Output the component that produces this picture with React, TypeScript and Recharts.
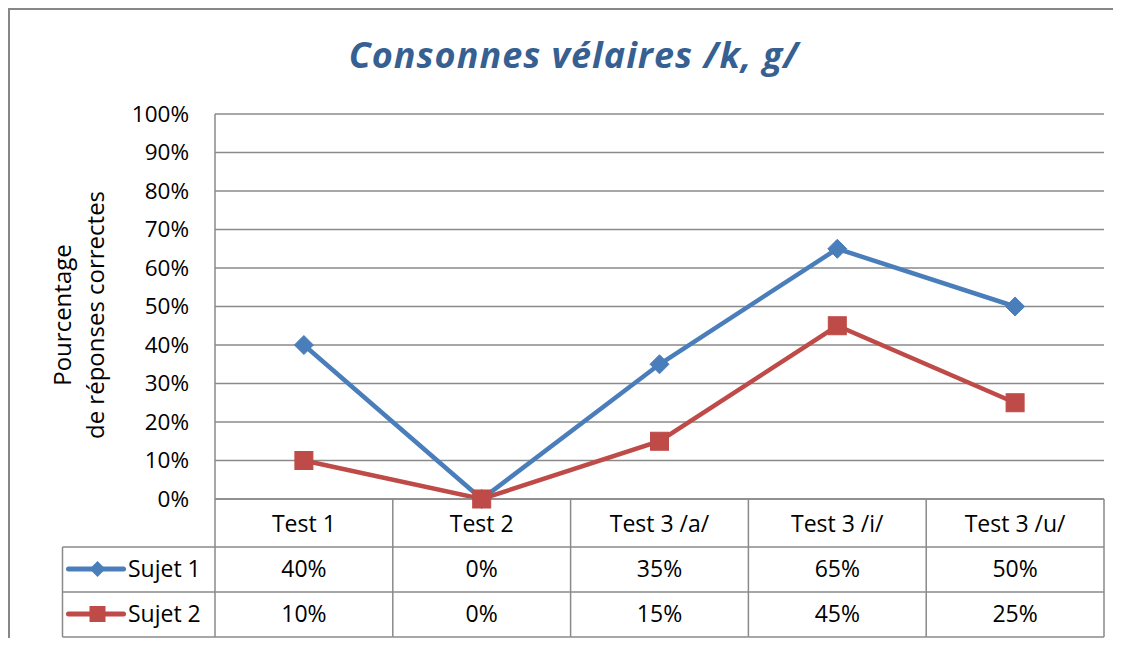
import React from 'react';
import { LineChart, Line, XAxis, YAxis, CartesianGrid } from 'recharts';

const categories = ['Test 1', 'Test 2', 'Test 3 /a/', 'Test 3 /i/', 'Test 3 /u/'];
const sujet1 = [40, 0, 35, 65, 50];
const sujet2 = [10, 0, 15, 45, 25];
const seriesNames = ['Sujet 1', 'Sujet 2'];
const yTicks = [0, 10, 20, 30, 40, 50, 60, 70, 80, 90, 100];
const title = 'Consonnes vélaires /k, g/';
const yLabelLines = ['Pourcentage', 'de réponses correctes'];

const data = categories.map((c, i) => ({ cat: c, s1: sujet1[i], s2: sujet2[i] }));

const BLUE = '#4a7ebb';
const RED = '#be4b48';
const GRID = '#8a8a8a';
const FONT = '"Open Sans", sans-serif';

const W = 1113;
const H = 630;
const FRAME_W = 1140;
const FRAME_H = 660;
const M = { top: 106, right: 17, left: 0, bottom: 0 };
const YAXIS_W = 207;
const XAXIS_H = 139;
const PLOT_W = W - M.left - M.right - YAXIS_W;
const BAND = PLOT_W / categories.length;

const diamondPath = (cx: number, cy: number, r: number) =>
  `M${cx} ${cy - r}L${cx + r} ${cy}L${cx} ${cy + r}L${cx - r} ${cy}Z`;

const DiamondDot = (p: any) => {
  if (p.cx == null || p.cy == null) return <g key={p.index} />;
  return <path key={`d${p.index}`} d={diamondPath(p.cx, p.cy, 9.5)} fill={BLUE} stroke={BLUE} strokeWidth={1} />;
};

const SquareDot = (p: any) => {
  if (p.cx == null || p.cy == null) return <g key={p.index} />;
  return <rect key={`s${p.index}`} x={p.cx - 9} y={p.cy - 9} width={18} height={18} fill={RED} stroke={RED} strokeWidth={1} />;
};

const LegendMarker = ({ x, y, idx }: { x: number; y: number; idx: number }) =>
  idx === 0 ? (
    <path d={diamondPath(x, y, 8)} fill={BLUE} />
  ) : (
    <rect x={x - 8} y={y - 8} width={16} height={16} fill={RED} />
  );

const TableTick = (props: any) => {
  const { x, y, payload } = props;
  const i: number = payload.index ?? props.index;
  const l = x - BAND / 2;
  const r = x + BAND / 2;
  const lx = l - 152.5;
  const rowsY = [48, 93, 138];
  const textStyle = { fontFamily: FONT, fontSize: 23, fill: '#000' };
  const seriesVals = [sujet1, sujet2];
  const colors = [BLUE, RED];
  return (
    <g>
      <line x1={r} y1={y} x2={r} y2={y + 138} stroke={GRID} strokeWidth={1.5} />
      {i === 0 && <line x1={l} y1={y} x2={l} y2={y + 138} stroke={GRID} strokeWidth={1.5} />}
      {i === 0 && <line x1={lx} y1={y + 48} x2={lx} y2={y + 138} stroke={GRID} strokeWidth={1.5} />}
      {rowsY.map((ry) => (
        <line key={ry} x1={i === 0 ? lx : l} y1={y + ry} x2={r} y2={y + ry} stroke={GRID} strokeWidth={1.5} />
      ))}
      <text x={x} y={y + 33} textAnchor="middle" style={textStyle}>{payload.value}</text>
      {seriesVals.map((vals, k) => (
        <text key={k} x={x} y={y + 78 + 45 * k} textAnchor="middle" style={textStyle}>
          {vals[i]}%
        </text>
      ))}
      {i === 0 &&
        seriesNames.map((name, k) => (
          <g key={name}>
            <line x1={lx + 6} y1={y + 70 + 45 * k} x2={lx + 61} y2={y + 70 + 45 * k} stroke={colors[k]} strokeWidth={5} strokeLinecap="round" />
            <LegendMarker x={lx + 35} y={y + 70 + 45 * k} idx={k} />
            <text x={lx + 65.5} y={y + 78 + 45 * k} style={textStyle}>{name}</text>
          </g>
        ))}
    </g>
  );
};

export default function App() {
  return (
    <div style={{ position: 'relative', width: W, height: H }}>
      <style>{'html,body{overflow:hidden}'}</style>
      <div
        style={{
          position: 'absolute',
          left: 0,
          top: 0,
          width: FRAME_W,
          height: FRAME_H,
          boxSizing: 'border-box',
          borderTop: '2px solid #878787',
          borderLeft: '2px solid #878787',
        }}
      />
      <div style={{ position: 'absolute', left: 0, top: 0 }}>
        <LineChart width={W} height={H} data={data} margin={M}>
          <CartesianGrid horizontal vertical={false} stroke={GRID} strokeWidth={1.5} />
          <XAxis
            dataKey="cat"
            scale="band"
            height={XAXIS_H}
            interval={0}
            tickLine={false}
            tickSize={0}
            tickMargin={0}
            axisLine={{ stroke: GRID, strokeWidth: 1.5 }}
            tick={<TableTick />}
          />
          <YAxis
            width={YAXIS_W}
            domain={[0, 100]}
            ticks={yTicks}
            interval={0}
            tickFormatter={(v: number) => `${v}%`}
            tickLine={false}
            tickSize={0}
            tickMargin={26}
            axisLine={{ stroke: GRID, strokeWidth: 1.5 }}
            tick={{ fontFamily: FONT, fontSize: 22.5, fill: '#000' }}
          />
          <Line
            dataKey="s1"
            name={seriesNames[0]}
            stroke={BLUE}
            strokeWidth={4.5}
            dot={DiamondDot}
            activeDot={false}
            isAnimationActive={false}
          />
          <Line
            dataKey="s2"
            name={seriesNames[1]}
            stroke={RED}
            strokeWidth={4.5}
            dot={SquareDot}
            activeDot={false}
            isAnimationActive={false}
          />
        </LineChart>
      </div>
      <svg width={W} height={H} style={{ position: 'absolute', left: 0, top: 0, pointerEvents: 'none' }}>
        <text
          x={566}
          y={60}
          textAnchor="middle"
          style={{ fontFamily: FONT, fontSize: 36, fontWeight: 700, fontStyle: 'italic', letterSpacing: 1, fill: '#376092' }}
        >
          {title}
        </text>
        <text
          transform="rotate(-90 63 307)"
          x={63}
          y={307}
          textAnchor="middle"
          style={{ fontFamily: FONT, fontSize: 24, fill: '#000' }}
        >
          <tspan x={63} dy={0}>{yLabelLines[0]}</tspan>
          <tspan x={63} dy={33}>{yLabelLines[1]}</tspan>
        </text>
      </svg>
    </div>
  );
}
